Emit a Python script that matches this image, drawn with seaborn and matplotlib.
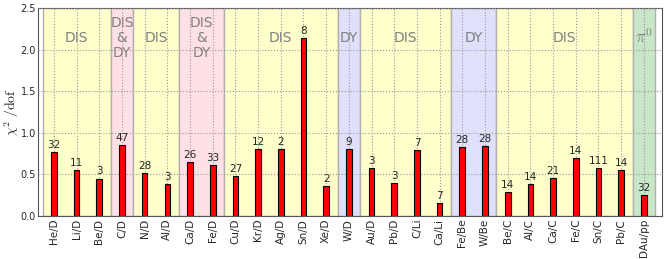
import numpy as np
import pandas as pd
import matplotlib
matplotlib.use('Agg')
import matplotlib.pyplot as plt
import seaborn as sns

# данные
labels = ['He/D', 'Li/D', 'Be/D', 'C/D', 'N/D', 'Al/D', 'Ca/D', 'Fe/D', 'Cu/D', 'Kr/D',
          'Ag/D', 'Sn/D', 'Xe/D', 'W/D', 'Au/D', 'Pb/D', 'C/Li', 'Ca/Li', 'Fe/Be', 'W/Be',
          'Be/C', 'Al/C', 'Ca/C', 'Fe/C', 'Sn/C', 'Pb/C', 'DAu/pp']
chi2 = [0.77, 0.55, 0.45, 0.85, 0.52, 0.38, 0.65, 0.61, 0.48, 0.81,
        0.80, 2.14, 0.36, 0.81, 0.58, 0.40, 0.79, 0.16, 0.83, 0.84,
        0.29, 0.38, 0.46, 0.70, 0.58, 0.55, 0.25]
npoints = [32, 11, 3, 47, 28, 3, 26, 33, 27, 12,
           2, 8, 2, 9, 3, 3, 7, 7, 28, 28,
           14, 14, 21, 14, 111, 14, 32]

# области процессов: (первый, последний индекс, подпись, цвет)
region_first = [0, 3, 4, 6, 8, 13, 14, 18, 20, 26]
region_last = [2, 3, 5, 7, 12, 13, 17, 19, 25, 26]
region_text = ['DIS', 'DIS\n&\nDY', 'DIS', 'DIS\n&\nDY', 'DIS', 'DY', 'DIS', 'DY', 'DIS', r'$\pi^0$']
region_color = ['#ffffcc', '#ffe0e6', '#ffffcc', '#ffe0e6', '#ffffcc', '#e0e0fc',
                '#ffffcc', '#e0e0fc', '#ffffcc', '#c9e6c9']

sns.set_style('white')
plt.rcParams['mathtext.fontset'] = 'cm'

fig = plt.figure(figsize=(6.64, 2.59), dpi=100)
ax = fig.add_axes([38 / 664, 1 - 216 / 259, 624 / 664, 208 / 259])

xmin, xmax = -0.7, 26.8
for a, b, t, c in zip(region_first, region_last, region_text, region_color):
    lo = max(a - 0.5, xmin)
    hi = min(b + 0.5, xmax)
    ax.axvspan(lo, hi, facecolor=c, edgecolor='#b0b0b0', lw=1.0, zorder=0)
    fs = 12 if t.startswith('$') else 10
    ax.text((a + b) / 2, 2.14, t, ha='center', va='center', color='#808080',
            fontsize=fs, linespacing=1.05, zorder=1)

df = pd.DataFrame({'label': labels, 'chi2': chi2})
sns.barplot(data=df, x='label', y='chi2', ax=ax, color='red', saturation=1,
            width=0.25, edgecolor='black', linewidth=0.8, zorder=3)

for i, (v, n) in enumerate(zip(chi2, npoints)):
    ax.text(i, v + 0.025, str(n), ha='center', va='bottom', fontsize=7.5, zorder=4)

ax.set_xlim(xmin, xmax)
ax.set_ylim(0, 2.5)
ax.set_yticks([0, 0.5, 1.0, 1.5, 2.0, 2.5])
ax.set_yticklabels(['0.0', '0.5', '1.0', '1.5', '2.0', '2.5'], fontsize=7)
ax.tick_params(axis='x', labelrotation=90, labelsize=7.5, length=0, pad=2)
ax.tick_params(axis='y', length=0, pad=1.5)
ax.set_xlabel('')
ax.set_ylabel(r'$\chi^2\ /\mathrm{dof}$', fontsize=10)
ax.yaxis.set_label_coords(-0.028, 0.5)
ax.grid(True, color='#999999', linestyle=':', linewidth=0.8, zorder=2)
ax.set_axisbelow(False)
for s in ax.spines.values():
    s.set_color('#555555')
    s.set_linewidth(0.8)

plt.savefig('out.png', dpi=100)
